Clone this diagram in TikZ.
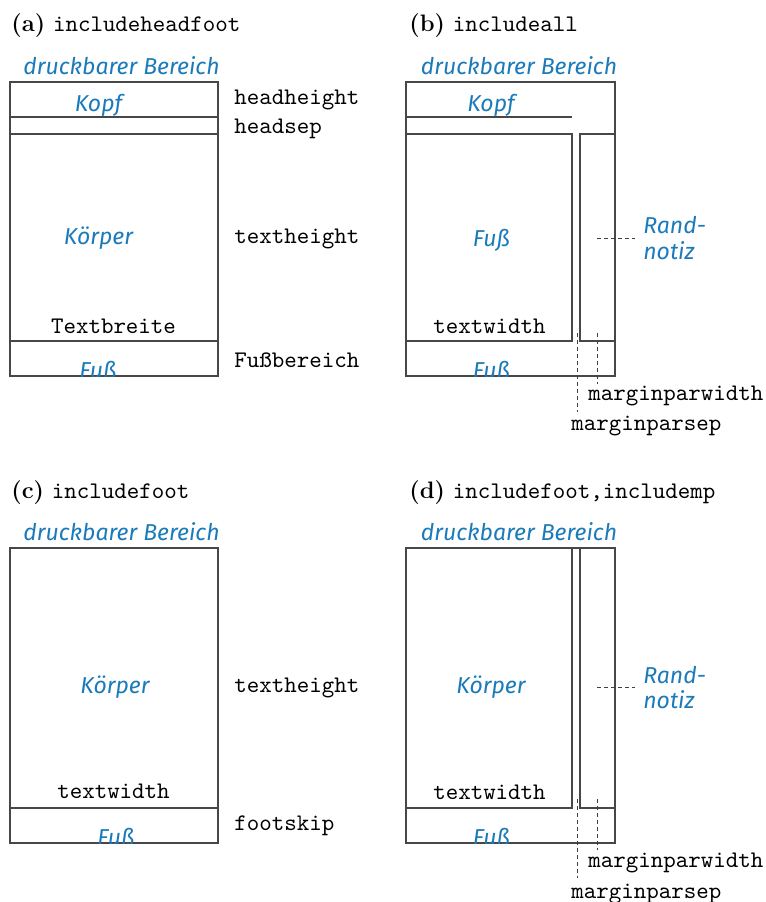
\documentclass[tikz,border=0pt]{standalone}
\usepackage{fontspec}
\setmonofont{lmmono10-regular.otf}
\newfontfamily\blsans{Fira Sans}
\definecolor{kblue}{HTML}{1A7ABA}
\begin{document}
\begin{tikzpicture}[x=0.5pt,y=-0.5pt,
 frame/.style={draw=black!72, line width=0.55pt},
 blbl/.style={font=\fontsize{11.5}{13}\selectfont\blsans\itshape, text=kblue, inner sep=0pt, anchor=base},
 mono/.style={font=\fontsize{11.9}{13}\selectfont\ttfamily, inner sep=0pt},
 ttl/.style={font=\fontsize{11.9}{13}\selectfont, inner sep=0pt, anchor=base west},
 guide/.style={draw=black!75, line width=0.4pt, dash pattern=on 2pt off 1.5pt}]
\useasboundingbox (0,0) rectangle (766,902);

% ---------- (a) ----------
\node[ttl] (ta) at (11,31) {\textbf{(a)} \texttt{includeheadfoot}};
\draw[frame] (10,82) rectangle (218,376);
\draw[frame] (10,117) -- (218,117);
\draw[frame] (10,134) -- (218,134);
\draw[frame] (10,341) -- (218,341);
\node[blbl] (pa) at (121.5,74) {druckbarer Bereich};
\node[blbl] (ka) at (98.5,111) {Kopf};
\node[blbl] (ba) at (98.5,244) {Körper};
\node[mono, anchor=base] (wa) at (113.5,333) {Textbreite};
\begin{scope}
 \clip (10,341) rectangle (218,376);
 \node[blbl] (fa) at (98,378) {Fuß};
\end{scope}
\node[mono, anchor=base west] (hha) at (234,104) {headheight};
\node[mono, anchor=base west] (hsa) at (234,133) {headsep};
\node[mono, anchor=base west] (tha) at (234,243) {textheight};
\node[mono, anchor=base west] (fba) at (234,367) {Fußbereich};

% ---------- (b) ----------
\node[ttl] (tb) at (409,31) {\textbf{(b)} \texttt{includeall}};
\draw[frame] (406,82) rectangle (615,376);
\draw[frame] (406,117) -- (572,117);
\draw[frame] (406,134) rectangle (572,341);
\draw[frame] (580,134) rectangle (615,341);
\node[blbl] (pb) at (519,74) {druckbarer Bereich};
\node[blbl] (kb) at (491,111) {Kopf};
\node[blbl] (bb) at (491.5,246) {Fuß};
\node[mono, anchor=base] (wb) at (489.5,333) {textwidth};
\begin{scope}
 \clip (406,341) rectangle (615,376);
 \node[blbl] (fb) at (491.5,378) {Fuß};
\end{scope}
\node[blbl, anchor=base west] (rb1) at (643,233) {Rand-};
\node[blbl, anchor=base west] (rb2) at (643,259) {notiz};
\coordinate (rbA) at (597,238); \coordinate (rbB) at (635,238);
\draw[guide] (rbA) -- (rbB);
\coordinate (msbA) at (577,333); \coordinate (msbB) at (577,412);
\draw[guide] (msbA) -- (msbB);
\coordinate (mwbA) at (597,333); \coordinate (mwbB) at (597,384);
\draw[guide] (mwbA) -- (mwbB);
\node[mono, anchor=base west] (mwb) at (588,400) {marginparwidth};
\node[mono, anchor=base west] (msb) at (571,430) {marginparsep};

% ---------- (c) ----------
\node[ttl] (tc) at (11,498) {\textbf{(c)} \texttt{includefoot}};
\draw[frame] (10,548) rectangle (218,843);
\draw[frame] (10,808) -- (218,808);
\node[blbl] (pc) at (121.5,540) {druckbarer Bereich};
\node[blbl] (bc) at (115,693) {Körper};
\node[mono, anchor=base] (wc) at (113.5,798) {textwidth};
\begin{scope}
 \clip (10,808) rectangle (218,843);
 \node[blbl] (fc) at (116,845) {Fuß};
\end{scope}
\node[mono, anchor=base west] (thc) at (234,692) {textheight};
\node[mono, anchor=base west] (fsc) at (234,830) {footskip};

% ---------- (d) ----------
\node[ttl] (td) at (409,498) {\textbf{(d)} \texttt{includefoot,includemp}};
\draw[frame] (406,548) rectangle (615,843);
\draw[frame] (406,548) rectangle (572,808);
\draw[frame] (580,548) rectangle (615,808);
\node[blbl] (pd) at (519,540) {druckbarer Bereich};
\node[blbl] (bd) at (491,693) {Körper};
\node[mono, anchor=base] (wd) at (489.5,799) {textwidth};
\begin{scope}
 \clip (406,808) rectangle (615,843);
 \node[blbl] (fd) at (491.5,845) {Fuß};
\end{scope}
\node[blbl, anchor=base west] (rd1) at (643,683) {Rand-};
\node[blbl, anchor=base west] (rd2) at (643,708) {notiz};
\coordinate (rdA) at (597,687); \coordinate (rdB) at (635,687);
\draw[guide] (rdA) -- (rdB);
\coordinate (msdA) at (577,799); \coordinate (msdB) at (577,878);
\draw[guide] (msdA) -- (msdB);
\coordinate (mwdA) at (597,799); \coordinate (mwdB) at (597,850);
\draw[guide] (mwdA) -- (mwdB);
\node[mono, anchor=base west] (mwd) at (588,867) {marginparwidth};
\node[mono, anchor=base west] (msd) at (571,898) {marginparsep};
\end{tikzpicture}
\end{document}
